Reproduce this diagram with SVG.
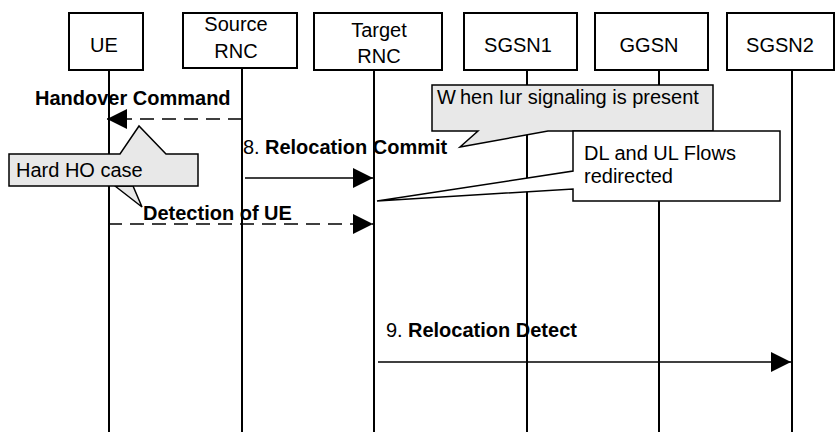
<svg xmlns="http://www.w3.org/2000/svg" width="835" height="432" viewBox="0 0 835 432">
<style>
text{font-family:"Liberation Sans",Arial,sans-serif;font-size:20px;fill:#000}
.b{font-weight:bold}
.node rect{fill:#fff;stroke:#000;stroke-width:2}
.life{stroke:#000;stroke-width:2}
.msg{stroke:#000;stroke-width:1.7;fill:none}
.dash{stroke-dasharray:14 8}
.call{stroke:#000;stroke-width:1.5}
.grey{fill:#e8e8e8}
.white{fill:#fff}
</style>
<defs>
<marker id="ah" markerWidth="20" markerHeight="20" viewBox="0 0 20 20" refX="20" refY="10" orient="auto" markerUnits="userSpaceOnUse">
<path d="M0,0 L20,10 L0,20 Z" fill="#000"/>
</marker>
</defs>
<g id="lifelines">
<line class="life" x1="109" y1="70" x2="109" y2="432"/>
<line class="life" x1="242" y1="68" x2="242" y2="432"/>
<line class="life" x1="374" y1="70" x2="374" y2="432"/>
<line class="life" x1="527" y1="70" x2="527" y2="432"/>
<line class="life" x1="659" y1="70" x2="659" y2="432"/>
<line class="life" x1="792" y1="70" x2="792" y2="432"/>
</g>
<g id="ue" class="node"><rect x="69" y="13" width="74" height="57"/><text x="104" y="52" text-anchor="middle">UE</text></g>
<g id="source-rnc" class="node"><rect x="183" y="13" width="114" height="55"/><text x="236" y="31" text-anchor="middle">Source</text><text x="236" y="58" text-anchor="middle">RNC</text></g>
<g id="target-rnc" class="node"><rect x="314" y="13" width="128" height="57"/><text x="379" y="37" text-anchor="middle">Target</text><text x="379" y="63" text-anchor="middle">RNC</text></g>
<g id="sgsn1" class="node"><rect x="464" y="13" width="113" height="57"/><text x="518" y="52" text-anchor="middle">SGSN1</text></g>
<g id="ggsn" class="node"><rect x="595" y="13" width="113" height="57"/><text x="649" y="52" text-anchor="middle">GGSN</text></g>
<g id="sgsn2" class="node"><rect x="727" y="13" width="107" height="57"/><text x="780" y="52" text-anchor="middle">SGSN2</text></g>
<g id="connectors">
<line class="msg dash" x1="242" y1="119" x2="107" y2="119" marker-end="url(#ah)"/>
<line class="msg" x1="245" y1="178" x2="373" y2="178" marker-end="url(#ah)"/>
<line class="msg dash" x1="108" y1="224" x2="373" y2="224" marker-end="url(#ah)"/>
<line class="msg" x1="378" y1="362" x2="791" y2="362" marker-end="url(#ah)"/>
</g>
<g id="labels">
<text class="b" x="35" y="105">Handover Command</text>
<text x="243" y="154">8. <tspan class="b" x="265">Relocation Commit</tspan></text>
<text class="b" x="143" y="220">Detection of UE</text>
<text x="386" y="337">9. <tspan class="b" x="408">Relocation Detect</tspan></text>
</g>
<g id="callout-iur">
<path class="call grey" d="M432,85 H713 V131 H548 L460,147 L478,131 H432 Z"/>
<text x="437" y="104">W<tspan dx="4">hen Iur signaling is present</tspan></text>
</g>
<g id="callout-flows">
<path class="call white" d="M573,131 H780 V201 H573 V189 L377,201 L573,171 Z"/>
<text x="584" y="160">DL and UL Flows</text>
<text x="584" y="183">redirected</text>
</g>
<g id="callout-hardho">
<path class="call grey" d="M115,186 L142,207 L133,186 Z"/>
<path class="call grey" d="M9,154 H120 L139,126 L166,154 H198 V186 H9 Z"/>
<text x="16" y="177">Hard HO case</text>
</g>
</svg>
